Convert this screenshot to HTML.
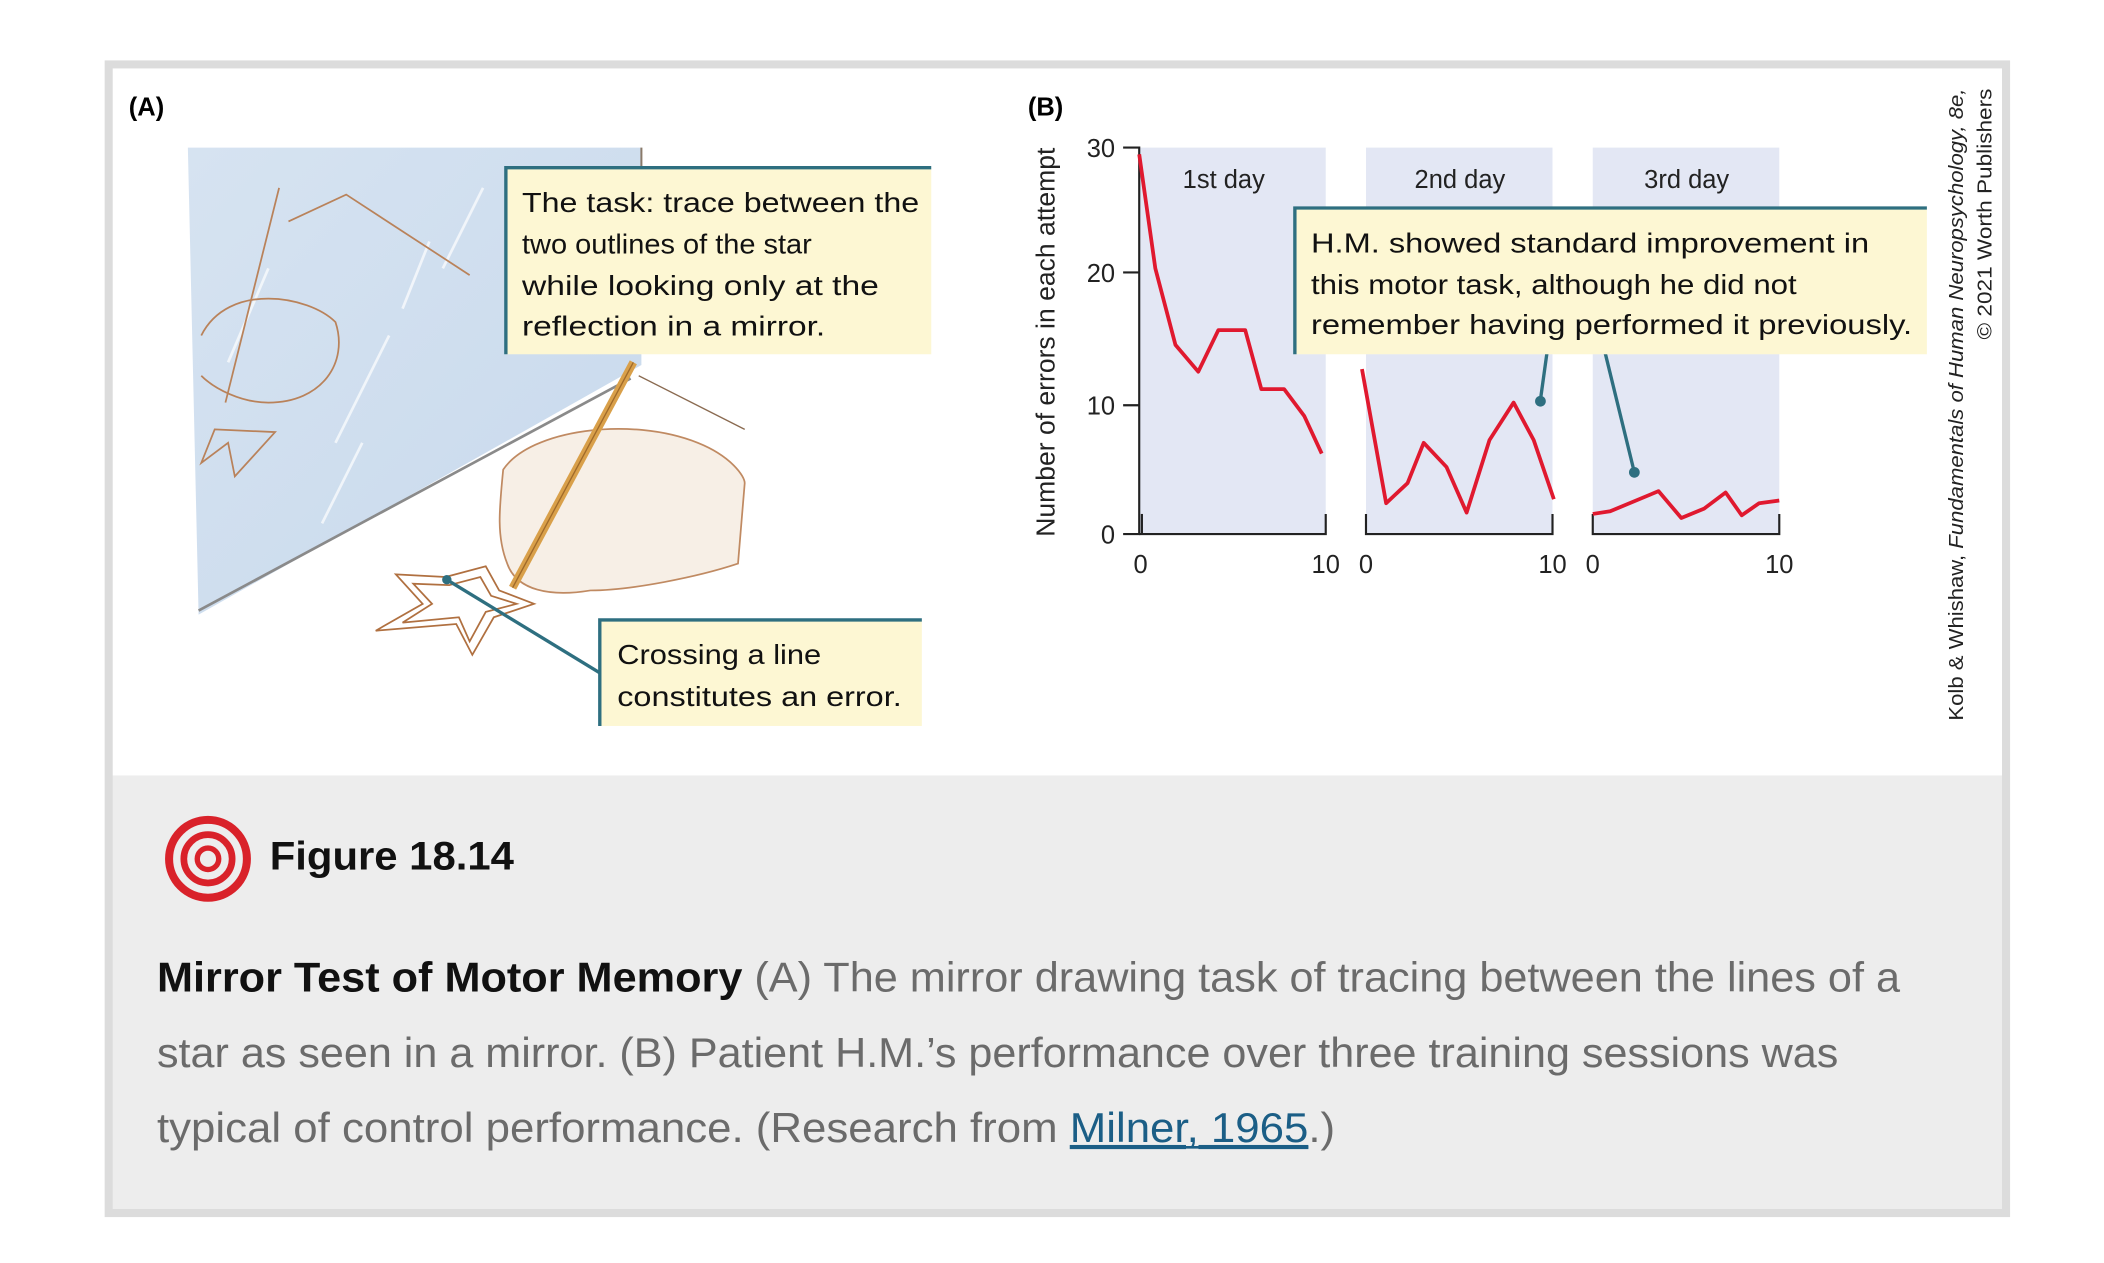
<!DOCTYPE html>
<html><head><meta charset="utf-8"><style>html,body{margin:0;padding:0;background:#fff}svg{display:block}</style></head>
<body>
<svg width="2104" height="1263" viewBox="0 0 1568 941.2" preserveAspectRatio="none" xmlns="http://www.w3.org/2000/svg" font-family="Liberation Sans, sans-serif">
<defs><linearGradient id="mg" x1="0" y1="0" x2="1" y2="1"><stop offset="0" stop-color="#d6e3f1"/><stop offset="1" stop-color="#c8d9ec"/></linearGradient></defs>
<rect x="78" y="45" width="1420" height="862" fill="#dcdcdc"/>
<rect x="84" y="51" width="1408" height="527" fill="#fff"/>
<rect x="84" y="578" width="1408" height="323" fill="#ededed"/>
<text x="96" y="86" font-size="19" font-weight="bold">(A)</text>
<!-- mirror -->
<polygon points="140,110 478,110 478,272 148,458" fill="url(#mg)"/>
<line x1="148" y1="455" x2="470" y2="282" stroke="#8a8a8a" stroke-width="2"/>
<line x1="478" y1="110" x2="478" y2="130" stroke="#8a7a6a" stroke-width="1.5"/>
<g stroke="#fff" stroke-width="2" opacity="0.7"><line x1="170" y1="270" x2="200" y2="200"/><line x1="250" y1="330" x2="290" y2="250"/><line x1="240" y1="390" x2="270" y2="330"/><line x1="330" y1="200" x2="360" y2="140"/><line x1="300" y1="230" x2="320" y2="180"/></g>
<!-- reflected hand/pencil -->
<g fill="none" stroke="#b9825a" stroke-width="1.3"><line x1="208" y1="140" x2="168" y2="300"/><path d="M150,250 C170,210 230,220 250,240 C260,270 240,300 200,300 C180,300 160,290 150,280"/><path d="M160,320 L205,322 L175,355 L170,330 L150,345 Z"/><path d="M215,165 L258,145 L350,205"/></g>
<!-- real hand -->
<path d="M375,350 C395,320 470,310 520,330 C545,340 555,355 555,360 L550,420 C520,430 470,440 440,440 C410,445 385,440 378,420 C370,400 372,380 375,350 Z" fill="#f7efe6" stroke="#c08a62" stroke-width="1.3"/>
<line x1="472" y1="270" x2="382" y2="438" stroke="#d9a04a" stroke-width="6"/>
<line x1="472" y1="270" x2="382" y2="438" stroke="#a06a2a" stroke-width="1"/>
<line x1="476" y1="280" x2="555" y2="320" stroke="#8a6a50" stroke-width="1"/>
<!-- star -->
<g fill="none" stroke="#b07040" stroke-width="1.3"><polygon points="332,430 362,422 372,440 398,450 368,460 352,488 340,465 280,470 315,450 295,428"/><polygon points="335,436 358,430 366,444 385,450 362,456 350,478 342,460 300,464 322,450 308,435"/></g>
<!-- callout 1 -->
<rect x="377" y="125" width="317" height="139" fill="#fdf7d3"/>
<path d="M377,264 V125 H694" fill="none" stroke="#2e6f80" stroke-width="2.5"/>
<g font-size="21" fill="#111"><text x="389" y="158" textLength="296" lengthAdjust="spacingAndGlyphs">The task: trace between the</text><text x="389" y="189" textLength="216" lengthAdjust="spacingAndGlyphs">two outlines of the star</text><text x="389" y="220" textLength="266" lengthAdjust="spacingAndGlyphs">while looking only at the</text><text x="389" y="250" textLength="226" lengthAdjust="spacingAndGlyphs">reflection in a mirror.</text></g>
<!-- callout 2 -->
<line x1="333" y1="432" x2="448" y2="502" stroke="#2e6f80" stroke-width="2.5"/><circle cx="333" cy="432" r="3.5" fill="#2e6f80"/>
<rect x="447" y="462" width="240" height="79" fill="#fdf7d3"/>
<path d="M447,541 V462 H687" fill="none" stroke="#2e6f80" stroke-width="2.5"/>
<g font-size="21" fill="#111"><text x="460" y="495" textLength="152" lengthAdjust="spacingAndGlyphs">Crossing a line</text><text x="460" y="526" textLength="212" lengthAdjust="spacingAndGlyphs">constitutes an error.</text></g>
<!-- B -->
<text x="766" y="86" font-size="19" font-weight="bold">(B)</text>
<g fill="#e3e7f4"><rect x="849" y="110" width="139" height="288"/><rect x="1018" y="110" width="139" height="288"/><rect x="1187" y="110" width="139" height="288"/></g>
<g stroke="#222" stroke-width="1.6" fill="none"><path d="M837,110 H849 V398 H837"/><line x1="837" y1="203" x2="849" y2="203"/><line x1="837" y1="302" x2="849" y2="302"/><path d="M849,398 H988 V383"/><line x1="851" y1="383" x2="851" y2="398"/><path d="M1018,383 V398 H1157 V383"/><path d="M1187,383 V398 H1326 V383"/></g>
<g font-size="19" fill="#222" text-anchor="end"><text x="831" y="117">30</text><text x="831" y="210">20</text><text x="831" y="309">10</text><text x="831" y="405">0</text></g>
<g font-size="19" fill="#222" text-anchor="middle"><text x="850" y="427">0</text><text x="988" y="427">10</text><text x="1018" y="427">0</text><text x="1157" y="427">10</text><text x="1187" y="427">0</text><text x="1326" y="427">10</text></g>
<text transform="translate(786,255) rotate(-90)" font-size="19" fill="#222" text-anchor="middle" textLength="290" lengthAdjust="spacingAndGlyphs">Number of errors in each attempt</text>
<g font-size="19" fill="#222" text-anchor="middle"><text x="912" y="140">1st day</text><text x="1088" y="140">2nd day</text><text x="1257" y="140">3rd day</text></g>
<g fill="none" stroke="#e0192f" stroke-width="2.8" stroke-linejoin="round">
<polyline points="849,115 861,200 876,257 893,277 908,246 928,246 940,290 957,290 972,310 985,338"/>
<polyline points="1015,275 1033,375 1049,360 1061,330 1078,348 1093,382 1110,328 1128,300 1143,328 1158,372"/>
<polyline points="1187,383 1200,381 1236,366 1253,386 1270,379 1286,367 1298,384 1311,375 1326,373"/></g>
<g stroke="#2e6f80" stroke-width="2.5"><line x1="1153" y1="262" x2="1148" y2="298"/><line x1="1196" y1="262" x2="1218" y2="352"/></g>
<circle cx="1148" cy="299" r="4" fill="#2e6f80"/><circle cx="1218" cy="352" r="4" fill="#2e6f80"/>
<rect x="965" y="155" width="471" height="109" fill="#fdf7d3"/>
<path d="M965,264 V155 H1436" fill="none" stroke="#2e6f80" stroke-width="2.5"/>
<g font-size="21" fill="#111"><text x="977" y="188" textLength="416" lengthAdjust="spacingAndGlyphs">H.M. showed standard improvement in</text><text x="977" y="219" textLength="362" lengthAdjust="spacingAndGlyphs">this motor task, although he did not</text><text x="977" y="249" textLength="448" lengthAdjust="spacingAndGlyphs">remember having performed it previously.</text></g>
<g font-size="15" fill="#222"><text transform="translate(1463,537) rotate(-90)" textLength="471" lengthAdjust="spacingAndGlyphs">Kolb &amp; Whishaw, <tspan font-style="italic">Fundamentals of Human Neuropsychology, 8e,</tspan></text>
<text transform="translate(1484,253) rotate(-90)" textLength="187" lengthAdjust="spacingAndGlyphs">© 2021 Worth Publishers</text></g>
<!-- caption -->
<g fill="none" stroke="#d9222a"><circle cx="155" cy="640" r="29" stroke-width="6"/><circle cx="155" cy="640" r="18" stroke-width="5"/><circle cx="155" cy="640" r="8" stroke-width="4"/></g>
<text x="201" y="648" font-size="30" font-weight="bold" fill="#111" textLength="182" lengthAdjust="spacingAndGlyphs">Figure 18.14</text>
<g font-size="31" fill="#6b6b6b">
<text x="117" y="739" textLength="1299" lengthAdjust="spacingAndGlyphs"><tspan font-weight="bold" fill="#111">Mirror Test of Motor Memory</tspan> (A) The mirror drawing task of tracing between the lines of a</text>
<text x="117" y="795" textLength="1253" lengthAdjust="spacingAndGlyphs">star as seen in a mirror. (B) Patient H.M.’s performance over three training sessions was</text>
<text x="117" y="851" textLength="878" lengthAdjust="spacingAndGlyphs">typical of control performance. (Research from <tspan fill="#1b5e86" text-decoration="underline">Milner, 1965</tspan>.)</text>
</g>
<line x1="802" y1="855" x2="975" y2="855" stroke="#1b5e86" stroke-width="2"/>
</svg>
</body></html>
